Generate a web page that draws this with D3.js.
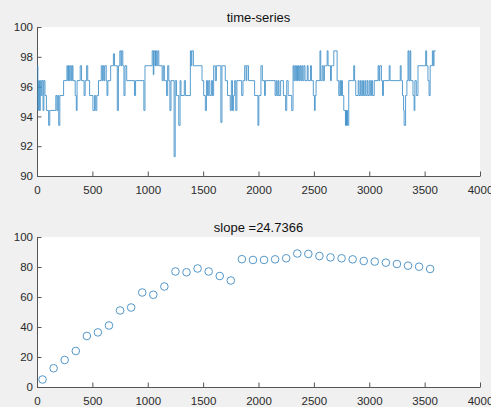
<!DOCTYPE html>
<html>
<head>
<meta charset="utf-8">
<script src="https://cdn.jsdelivr.net/npm/d3@7"></script>
<style>
  body { margin: 0; background: #f0f0f0; }
  svg { display: block; }
</style>
</head>
<body>
<div id="chart"></div>
<script>
// time-series, held as step breakpoints [t, value]
var tsSteps = [
    [0, 97.4], [8, 94.4], [15, 96.4], [22, 94.4], [30, 96.4], [38, 95.4], [45, 96.4], [55, 94.4],
    [62, 96.4], [72, 95.4], [85, 94.4], [105, 93.4], [115, 94.4], [170, 95.4], [180, 94.4],
    [188, 95.4], [196, 93.4], [206, 95.4], [240, 96.4], [270, 97.4], [278, 96.4], [285, 97.4],
    [292, 96.4], [300, 97.4], [310, 96.4], [318, 97.4], [325, 96.4], [345, 95.4], [355, 94.4],
    [362, 96.4], [390, 97.4], [402, 96.4], [425, 95.4], [435, 96.4], [448, 97.4], [458, 96.4],
    [475, 95.4], [505, 94.4], [520, 95.4], [530, 94.4], [540, 95.4], [555, 96.4], [580, 97.4],
    [590, 96.4], [597, 97.4], [605, 96.4], [612, 97.4], [625, 96.4], [632, 95.4], [640, 96.4],
    [665, 97.4], [690, 98.2], [700, 97.4], [725, 94.4], [735, 97.4], [748, 98.4], [758, 97.4],
    [765, 98.4], [775, 97.4], [785, 95.4], [795, 97.4], [810, 96.4], [880, 95.4], [890, 96.4],
    [965, 94.4], [975, 97.4], [1040, 98.4], [1050, 96.8], [1055, 98.4], [1065, 97.4], [1070, 98.4],
    [1080, 97.4], [1090, 98.4], [1100, 97.4], [1130, 96.4], [1140, 97.4], [1150, 96.4], [1170, 95.4],
    [1180, 97.4], [1190, 96.4], [1200, 94.4], [1210, 96.4], [1238, 91.3], [1248, 96.4], [1260, 95.4],
    [1280, 93.4], [1292, 96.4], [1300, 95.4], [1330, 96.4], [1340, 95.4], [1385, 98.4], [1392, 97.4],
    [1398, 98.4], [1412, 97.4], [1490, 96.4], [1505, 95.4], [1520, 94.4], [1530, 96.4], [1540, 95.4],
    [1550, 96.4], [1560, 95.4], [1575, 96.4], [1585, 95.4], [1595, 97.4], [1610, 96.4], [1620, 97.4],
    [1660, 93.6], [1670, 97.4], [1700, 96.4], [1720, 95.4], [1745, 94.4], [1755, 96.4], [1765, 94.4],
    [1775, 95.4], [1785, 96.4], [1795, 94.4], [1805, 96.4], [1833, 96.4], [1848, 95.4], [1860, 96.4],
    [1875, 97.4], [1888, 96.4], [1895, 97.4], [1910, 96.4], [1965, 95.4], [1995, 93.4], [2003, 95.4],
    [2022, 97.4], [2035, 96.4], [2055, 95.4], [2062, 96.4], [2150, 95.4], [2160, 96.4], [2168, 95.4],
    [2178, 96.4], [2185, 95.4], [2200, 96.4], [2225, 95.4], [2245, 94.4], [2255, 96.4], [2268, 95.4],
    [2300, 94.4], [2312, 97.4], [2320, 96.4], [2328, 97.4], [2336, 96.4], [2344, 97.4], [2352, 96.4],
    [2360, 97.4], [2368, 96.4], [2376, 97.4], [2384, 96.4], [2392, 97.4], [2400, 96.4], [2410, 97.4],
    [2420, 96.4], [2440, 97.4], [2448, 96.4], [2470, 97.4], [2478, 96.4], [2495, 95.4], [2505, 94.4],
    [2512, 95.4], [2520, 96.4], [2555, 98.4], [2562, 96.4], [2575, 97.4], [2585, 96.4], [2595, 97.4],
    [2620, 98.4], [2628, 97.4], [2650, 96.4], [2658, 97.4], [2680, 98.4], [2710, 96.4], [2725, 95.4],
    [2735, 96.4], [2742, 95.4], [2750, 96.4], [2758, 95.4], [2770, 94.4], [2785, 93.4], [2790, 94.4],
    [2795, 93.4], [2800, 94.4], [2805, 93.4], [2815, 96.4], [2860, 97.4], [2868, 96.4], [2878, 95.4],
    [2900, 96.4], [2908, 95.4], [2920, 96.4], [2928, 95.4], [2940, 96.4], [2948, 95.4], [2960, 96.4],
    [2968, 95.4], [2980, 96.4], [2988, 95.4], [3000, 96.4], [3010, 95.4], [3020, 96.4], [3030, 95.4],
    [3045, 96.4], [3080, 97.4], [3088, 96.4], [3095, 97.4], [3110, 96.4], [3120, 95.4], [3128, 96.4],
    [3180, 97.4], [3188, 96.4], [3280, 97.4], [3288, 96.4], [3300, 95.4], [3310, 94.4], [3315, 93.4],
    [3328, 95.4], [3340, 96.4], [3350, 98.4], [3358, 96.4], [3368, 98.4], [3375, 96.4], [3395, 95.4],
    [3405, 94.4], [3412, 96.4], [3425, 95.4], [3440, 97.4], [3510, 98.4], [3518, 97.4], [3530, 96.4],
    [3540, 95.4], [3550, 97.4], [3570, 98.4], [3578, 97.4], [3585, 98.4], [3600, 98.4]
];

// slope scatter
var slopeX = [50, 150, 250, 350, 450, 550, 650, 750, 850, 950, 1050, 1150, 1250, 1350, 1450, 1550,
    1650, 1750, 1850, 1950, 2050, 2150, 2250, 2350, 2450, 2550, 2650, 2750, 2850, 2950, 3050, 3150,
    3250, 3350, 3450, 3550];
var slopeY = [5, 12.5, 18, 24, 34, 36.4, 41, 51, 53, 63, 61.5, 67, 77, 76.5, 79, 77,
    74, 71, 85.2, 84.7, 84.7, 85.1, 85.8, 89, 88.7, 87.3, 86.4, 85.8, 85.1, 84, 83.6, 82.9,
    82, 80.9, 80.2, 78.7];

var xTicks = [0, 500, 1000, 1500, 2000, 2500, 3000, 3500, 4000];
var topYTicks = [90, 92, 94, 96, 98, 100];
var botYTicks = [0, 20, 40, 60, 80, 100];
var topTitle = "time-series";
var botTitle = "slope =24.7366";

var W = 491, H = 407;
var left = 37, right = 480;

var svg = d3.select("#chart").append("svg")
    .attr("width", W)
    .attr("height", H)
    .style("font-family", "'Liberation Sans', Arial, sans-serif");

svg.append("rect").attr("width", W).attr("height", H).attr("fill", "#f0f0f0");

function panel(top, bottom, yDomain, yTicks, title) {
    var x = d3.scaleLinear().domain([0, 4000]).range([left, right]);
    var y = d3.scaleLinear().domain(yDomain).range([bottom, top]);

    svg.append("rect")
        .attr("x", left).attr("y", top)
        .attr("width", right - left).attr("height", bottom - top)
        .attr("fill", "white");

    var gx = svg.append("g")
        .attr("transform", "translate(0," + bottom + ")")
        .call(d3.axisBottom(x).tickValues(xTicks).tickFormat(d3.format("d"))
            .tickSizeInner(-4.5).tickSizeOuter(0).tickPadding(9.5));
    var gy = svg.append("g")
        .attr("transform", "translate(" + left + ",0)")
        .call(d3.axisLeft(y).tickValues(yTicks).tickFormat(d3.format("d"))
            .tickSizeInner(-4.5).tickSizeOuter(0).tickPadding(4));

    [gx, gy].forEach(function (g) {
        g.select(".domain").attr("stroke", "#555");
        g.selectAll(".tick line").attr("stroke", "#555");
        g.selectAll(".tick text").attr("fill", "#2a2a2a").style("font-size", "11.5px");
    });

    svg.append("text")
        .attr("x", (left + right) / 2)
        .attr("y", top - 5.5)
        .attr("text-anchor", "middle")
        .style("font-size", "13px")
        .attr("fill", "#111")
        .text(title);

    return { x: x, y: y };
}

var p1 = panel(27, 176, [90, 100], topYTicks, topTitle);
var line = d3.line()
    .x(function (d) { return p1.x(d[0]); })
    .y(function (d) { return p1.y(d[1]); })
    .curve(d3.curveStepAfter);
svg.append("path")
    .datum(tsSteps)
    .attr("d", line)
    .attr("fill", "none")
    .attr("stroke", "#3a8cc8")
    .attr("stroke-width", 0.85);

var p2 = panel(237, 387, [0, 100], botYTicks, botTitle);
svg.selectAll("circle.slope")
    .data(slopeX)
    .enter()
    .append("circle")
    .attr("class", "slope")
    .attr("cx", function (d) { return p2.x(d); })
    .attr("cy", function (d, i) { return p2.y(slopeY[i]); })
    .attr("r", 3.8)
    .attr("fill", "none")
    .attr("stroke", "#5497c9")
    .attr("stroke-width", 1);
</script>
</body>
</html>
